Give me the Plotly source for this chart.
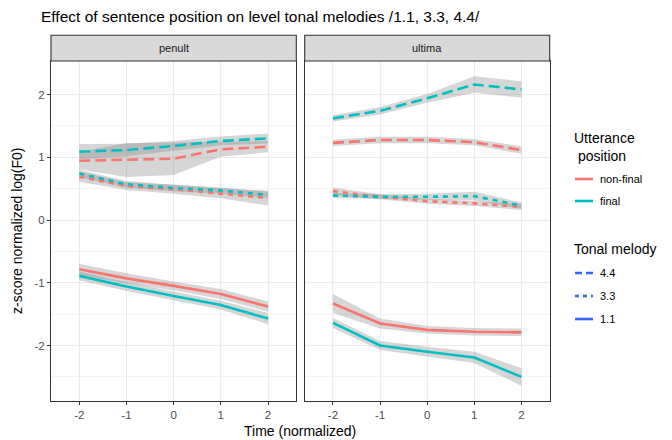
import plotly.graph_objects as go

# ---------------- data ----------------
time = [-2, -1, 0, 1, 2]
x_ticks = [-2, -1, 0, 1, 2]
y_ticks = [-2, -1, 0, 1, 2]
tick_labels = ["-2", "-1", "0", "1", "2"]
facets = ["penult", "ultima"]
positions = ["non-final", "final"]
melodies = ["4.4", "3.3", "1.1"]

# penult
penult_nonfinal_44 = [0.945, 0.956, 0.977, 1.127, 1.168]
penult_nonfinal_44_se = [0.14, 0.27, 0.26, 0.12, 0.09]
penult_final_44 = [1.09, 1.115, 1.18, 1.26, 1.30]
penult_final_44_se = [0.12, 0.10, 0.08, 0.07, 0.08]
penult_nonfinal_33 = [0.69, 0.54, 0.49, 0.425, 0.35]
penult_nonfinal_33_se = [0.08, 0.06, 0.07, 0.08, 0.12]
penult_final_33 = [0.74, 0.57, 0.51, 0.47, 0.40]
penult_final_33_se = [0.06, 0.05, 0.05, 0.05, 0.05]
penult_nonfinal_11 = [-0.786, -0.93, -1.05, -1.18, -1.38]
penult_nonfinal_11_se = [0.09, 0.08, 0.07, 0.08, 0.08]
penult_final_11 = [-0.89, -1.06, -1.21, -1.355, -1.57]
penult_final_11_se = [0.07, 0.07, 0.07, 0.07, 0.09]

# ultima
ultima_nonfinal_44 = [1.23, 1.275, 1.275, 1.24, 1.115]
ultima_nonfinal_44_se = [0.05, 0.05, 0.05, 0.05, 0.06]
ultima_final_44 = [1.62, 1.74, 1.94, 2.16, 2.08]
ultima_final_44_se = [0.05, 0.06, 0.07, 0.13, 0.13]
ultima_nonfinal_33 = [0.46, 0.37, 0.30, 0.265, 0.21]
ultima_nonfinal_33_se = [0.06, 0.04, 0.04, 0.04, 0.05]
ultima_final_33 = [0.39, 0.37, 0.37, 0.38, 0.23]
ultima_final_33_se = [0.04, 0.04, 0.05, 0.07, 0.05]
ultima_nonfinal_11 = [-1.33, -1.65, -1.75, -1.78, -1.79]
ultima_nonfinal_11_se = [0.15, 0.08, 0.06, 0.06, 0.06]
ultima_final_11 = [-1.64, -2.00, -2.10, -2.19, -2.50]
ultima_final_11_se = [0.08, 0.07, 0.08, 0.09, 0.14]

series = {
    ("penult", "non-final", "4.4"): (penult_nonfinal_44, penult_nonfinal_44_se),
    ("penult", "final", "4.4"): (penult_final_44, penult_final_44_se),
    ("penult", "non-final", "3.3"): (penult_nonfinal_33, penult_nonfinal_33_se),
    ("penult", "final", "3.3"): (penult_final_33, penult_final_33_se),
    ("penult", "non-final", "1.1"): (penult_nonfinal_11, penult_nonfinal_11_se),
    ("penult", "final", "1.1"): (penult_final_11, penult_final_11_se),
    ("ultima", "non-final", "4.4"): (ultima_nonfinal_44, ultima_nonfinal_44_se),
    ("ultima", "final", "4.4"): (ultima_final_44, ultima_final_44_se),
    ("ultima", "non-final", "3.3"): (ultima_nonfinal_33, ultima_nonfinal_33_se),
    ("ultima", "final", "3.3"): (ultima_final_33, ultima_final_33_se),
    ("ultima", "non-final", "1.1"): (ultima_nonfinal_11, ultima_nonfinal_11_se),
    ("ultima", "final", "1.1"): (ultima_final_11, ultima_final_11_se),
}

# ---------------- styles ----------------
W, H = 672, 440
pos_color = {"non-final": "#F8766D", "final": "#00BFC4"}
mel_dash = {"4.4": "11px,5px", "3.3": "5px,5px", "1.1": "solid"}
legend_dash = {"4.4": "7px,4px", "3.3": "4px,4px", "1.1": "solid"}
ribbon_fill = "rgba(128,128,128,0.32)"
FONT = "Liberation Sans, Arial, sans-serif"


def px_x(p):
    return p / W


def px_y(p):
    return 1 - p / H


panel_px = {"penult": (51, 296.3), "ultima": (304.7, 549.7)}
top_px, bot_px = 61, 401.3
strip_top_px = 35.3
axis_ids = {"penult": ("x", "y"), "ultima": ("x2", "y2")}

fig = go.Figure()

# ribbons first
for f in facets:
    xa, ya = axis_ids[f]
    for m in melodies:
        for p in positions:
            mean, se = series[(f, p, m)]
            up = [a + b for a, b in zip(mean, se)]
            lo = [a - b for a, b in zip(mean, se)]
            fig.add_trace(go.Scatter(
                x=time + time[::-1], y=up + lo[::-1], fill="toself",
                fillcolor=ribbon_fill, line=dict(width=0), mode="lines",
                hoverinfo="skip", showlegend=False, xaxis=xa, yaxis=ya))

# lines
for f in facets:
    xa, ya = axis_ids[f]
    for m in melodies:
        for p in positions:
            mean, se = series[(f, p, m)]
            fig.add_trace(go.Scatter(
                x=time, y=mean, mode="lines",
                line=dict(color=pos_color[p], width=2.6, dash=mel_dash[m]),
                showlegend=False, xaxis=xa, yaxis=ya, name=f"{p} {m}"))

shapes = []
annotations = []

# strips
for f in facets:
    x0, x1 = panel_px[f]
    shapes.append(dict(type="rect", xref="paper", yref="paper",
                       x0=px_x(x0), x1=px_x(x1), y0=px_y(top_px), y1=px_y(strip_top_px),
                       fillcolor="#D9D9D9", line=dict(color="#333333", width=1.1), layer="above"))
    annotations.append(dict(text=f, xref="paper", yref="paper",
                            x=px_x((x0 + x1) / 2), y=px_y((top_px + strip_top_px) / 2),
                            showarrow=False, font=dict(size=11, color="#1A1A1A", family=FONT),
                            xanchor="center", yanchor="middle"))

# title & axis titles
annotations.append(dict(text="Effect of sentence position on level tonal melodies /1.1, 3.3, 4.4/",
                        xref="paper", yref="paper", x=px_x(39), y=px_y(17), showarrow=False,
                        xanchor="left", yanchor="middle", font=dict(size=15.5, color="black", family=FONT)))
annotations.append(dict(text="Time (normalized)", xref="paper", yref="paper",
                        x=px_x(300.3), y=px_y(431), showarrow=False, xanchor="center", yanchor="middle",
                        font=dict(size=14, color="black", family=FONT)))
annotations.append(dict(text="z-score normalized log(F0)", xref="paper", yref="paper",
                        x=px_x(17), y=px_y(231), showarrow=False, textangle=-90,
                        xanchor="center", yanchor="middle", font=dict(size=14, color="black", family=FONT)))

# manual legend
annotations.append(dict(text="Utterance<br> position", xref="paper", yref="paper",
                        x=px_x(572), y=px_y(146.5), showarrow=False, xanchor="left", yanchor="middle",
                        align="left", font=dict(size=14, color="black", family=FONT)))
for p, yy in zip(positions, [179, 201]):
    shapes.append(dict(type="line", xref="paper", yref="paper", x0=px_x(575), x1=px_x(593),
                       y0=px_y(yy), y1=px_y(yy), line=dict(color=pos_color[p], width=2.6)))
    annotations.append(dict(text=p, xref="paper", yref="paper", x=px_x(598), y=px_y(yy),
                            showarrow=False, xanchor="left", yanchor="middle",
                            font=dict(size=11, color="black", family=FONT)))
annotations.append(dict(text="Tonal melody", xref="paper", yref="paper",
                        x=px_x(572), y=px_y(249), showarrow=False, xanchor="left", yanchor="middle",
                        font=dict(size=14, color="black", family=FONT)))
for m, yy in zip(melodies, [273, 296, 319]):
    shapes.append(dict(type="line", xref="paper", yref="paper", x0=px_x(575), x1=px_x(593),
                       y0=px_y(yy), y1=px_y(yy), line=dict(color="#3366FF", width=2.6, dash=legend_dash[m])))
    annotations.append(dict(text=m, xref="paper", yref="paper", x=px_x(598), y=px_y(yy),
                            showarrow=False, xanchor="left", yanchor="middle",
                            font=dict(size=11, color="black", family=FONT)))

y_range = [-2.889, 2.534]
ydom = [px_y(bot_px), px_y(top_px)]
common_x = dict(range=[-2.6, 2.6], tickmode="array", tickvals=x_ticks,
                ticktext=tick_labels, showgrid=True, gridcolor="#EBEBEB", gridwidth=1,
                zeroline=False, showline=True, mirror=True, linecolor="#333333", linewidth=1.1,
                ticks="outside", ticklen=3, tickcolor="#333333", tickwidth=1,
                tickfont=dict(size=11.5, color="#4D4D4D", family=FONT), fixedrange=True)
common_y = dict(range=y_range, tickmode="array", tickvals=y_ticks, ticktext=tick_labels, showgrid=True,
                gridcolor="#EBEBEB", gridwidth=1, zeroline=False, showline=True, mirror=True,
                linecolor="#333333", linewidth=1.1, ticks="outside", ticklen=3, tickcolor="#333333",
                tickwidth=1, tickfont=dict(size=11.5, color="#4D4D4D", family=FONT),
                minor=dict(tickvals=[-2.5, -1.5, -0.5, 0.5, 1.5], showgrid=True,
                           gridcolor="#F3F3F3", gridwidth=1, ticks=""), domain=ydom, fixedrange=True)

fig.update_layout(
    width=W, height=H, margin=dict(l=0, r=0, t=0, b=0),
    paper_bgcolor="white", plot_bgcolor="white", showlegend=False,
    xaxis=dict(common_x, domain=[px_x(51), px_x(296.3)], anchor="y"),
    xaxis2=dict(common_x, domain=[px_x(304.7), px_x(549.7)], anchor="y2"),
    yaxis=dict(common_y, anchor="x"),
    yaxis2=dict(common_y, anchor="x2", showticklabels=False, ticks=""),
    shapes=shapes, annotations=annotations,
)

fig.write_html("out.html")
